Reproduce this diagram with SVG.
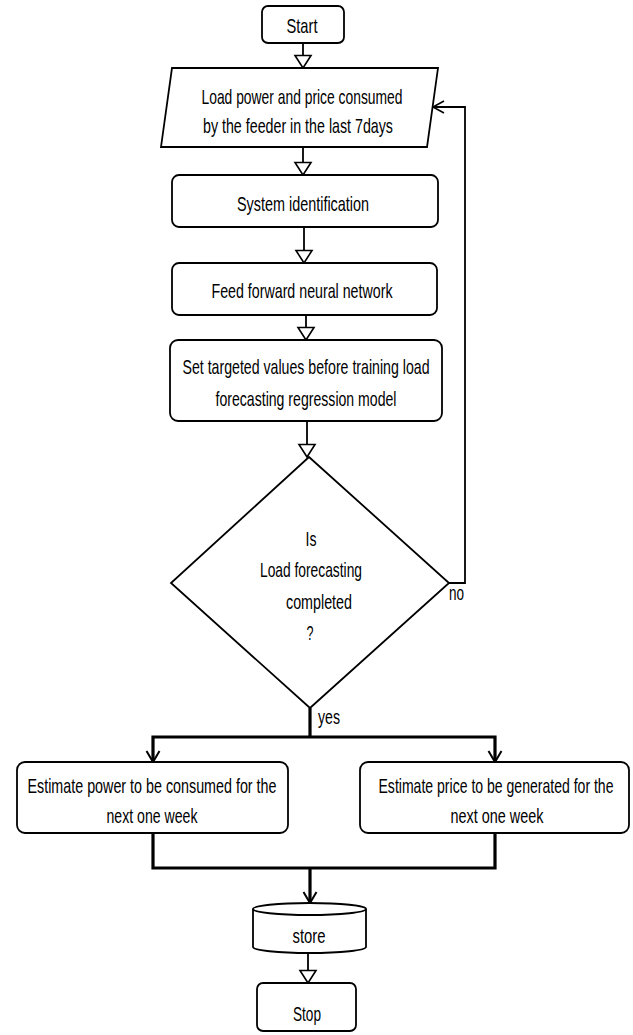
<svg xmlns="http://www.w3.org/2000/svg" width="633" height="1035" viewBox="0 0 633 1035">
<style>
.box{fill:#fff;stroke:#000;stroke-width:1.8}
.t{font-family:"Liberation Sans",Arial,sans-serif;font-size:21px;fill:#000;text-anchor:middle}
.lb{font-family:"Liberation Sans",Arial,sans-serif;font-size:21px;fill:#000}
.ln{fill:none;stroke:#000;stroke-width:1.8}
.thick{fill:none;stroke:#000;stroke-width:3.2}
</style>
<defs>
<marker id="hollow" markerUnits="userSpaceOnUse" markerWidth="16" markerHeight="20" viewBox="0 0 16 20" refX="14" refY="10" orient="auto">
<path d="M1.5,2 L14,10 L1.5,18 Z" fill="#fff" stroke="#000" stroke-width="1.6"/>
</marker>
<marker id="vee" markerUnits="userSpaceOnUse" markerWidth="14" markerHeight="16" viewBox="0 0 14 16" refX="12" refY="8" orient="auto">
<path d="M1,1.5 L12,8 L1,14.5" fill="none" stroke="#000" stroke-width="2"/>
</marker>
<marker id="veeThin" markerUnits="userSpaceOnUse" markerWidth="14" markerHeight="16" viewBox="0 0 14 16" refX="12" refY="8" orient="auto">
<path d="M1,2 L12,8 L1,14" fill="none" stroke="#000" stroke-width="1.6"/>
</marker>
</defs>

<g id="connectors">
<path class="ln" d="M303,43 V68" marker-end="url(#hollow)"/>
<path class="ln" d="M303,147 V175" marker-end="url(#hollow)"/>
<path class="ln" d="M304,227 V263" marker-end="url(#hollow)"/>
<path class="ln" d="M306,315 V340" marker-end="url(#hollow)"/>
<path class="ln" d="M307,421 V457" marker-end="url(#hollow)"/>
<path class="ln" d="M449,583 H465 V107 H433" marker-end="url(#veeThin)"/>
<path class="thick" d="M310,708 V737"/>
<path class="thick" d="M310,737 H153 V762" marker-end="url(#vee)"/>
<path class="thick" d="M310,737 H495 V762" marker-end="url(#vee)"/>
<path class="thick" d="M153,833 V868 H495 V833"/>
<path class="thick" d="M310,868 V903" marker-end="url(#vee)"/>
<path class="ln" d="M308,953 V983" marker-end="url(#hollow)"/>
<text class="lb" x="449" y="600" textLength="15" lengthAdjust="spacingAndGlyphs">no</text>
<text class="lb" x="318" y="724" textLength="22" lengthAdjust="spacingAndGlyphs">yes</text>
</g>

<g id="start">
<rect class="box" x="262" y="6" width="82" height="37" rx="6"/>
<text class="t" x="302" y="33" textLength="31" lengthAdjust="spacingAndGlyphs">Start</text>
</g>

<g id="load-data">
<path class="box" d="M172,68 H438 L427,147 H161 Z"/>
<text class="t" x="302" y="104" textLength="201" lengthAdjust="spacingAndGlyphs">Load power and price consumed</text>
<text class="t" x="298" y="133" textLength="190" lengthAdjust="spacingAndGlyphs">by the feeder in the last 7days</text>
</g>

<g id="system-identification">
<rect class="box" x="172" y="175" width="266" height="52" rx="7"/>
<text class="t" x="303" y="211" textLength="132" lengthAdjust="spacingAndGlyphs">System identification</text>
</g>

<g id="feed-forward">
<rect class="box" x="172" y="263" width="265" height="52" rx="7"/>
<text class="t" x="302" y="298" textLength="181" lengthAdjust="spacingAndGlyphs">Feed forward neural network</text>
</g>

<g id="set-targets">
<rect class="box" x="170" y="340" width="272" height="81" rx="8"/>
<text class="t" x="306" y="374" textLength="247" lengthAdjust="spacingAndGlyphs">Set targeted values before training load</text>
<text class="t" x="306" y="406" textLength="181" lengthAdjust="spacingAndGlyphs">forecasting regression model</text>
</g>

<g id="decision">
<path class="box" d="M309,457 L449,583 L310,708 L171,583 Z"/>
<text class="t" x="311" y="546" textLength="11" lengthAdjust="spacingAndGlyphs">Is</text>
<text class="t" x="311" y="577" textLength="102" lengthAdjust="spacingAndGlyphs">Load forecasting</text>
<text class="t" x="319" y="609" textLength="66" lengthAdjust="spacingAndGlyphs">completed</text>
<text class="t" x="310" y="640" textLength="7" lengthAdjust="spacingAndGlyphs">?</text>
</g>

<g id="estimate-power">
<rect class="box" x="17" y="762" width="271" height="71" rx="8"/>
<text class="t" x="152" y="793" textLength="249" lengthAdjust="spacingAndGlyphs">Estimate power to be consumed for the</text>
<text class="t" x="152" y="823" textLength="91" lengthAdjust="spacingAndGlyphs">next one week</text>
</g>

<g id="estimate-price">
<rect class="box" x="360" y="762" width="269" height="71" rx="8"/>
<text class="t" x="496" y="793" textLength="235" lengthAdjust="spacingAndGlyphs">Estimate price to be generated for the</text>
<text class="t" x="497" y="823" textLength="93" lengthAdjust="spacingAndGlyphs">next one week</text>
</g>

<g id="store">
<path class="box" d="M253,909 V947 A56.5,6 0 0 0 366,947 V909"/>
<ellipse class="box" cx="309.5" cy="909" rx="56.5" ry="6"/>
<text class="t" x="309" y="943" textLength="33" lengthAdjust="spacingAndGlyphs">store</text>
</g>

<g id="stop">
<rect class="box" x="257" y="983" width="99" height="48" rx="6"/>
<text class="t" x="307" y="1021" textLength="28" lengthAdjust="spacingAndGlyphs">Stop</text>
</g>
</svg>
